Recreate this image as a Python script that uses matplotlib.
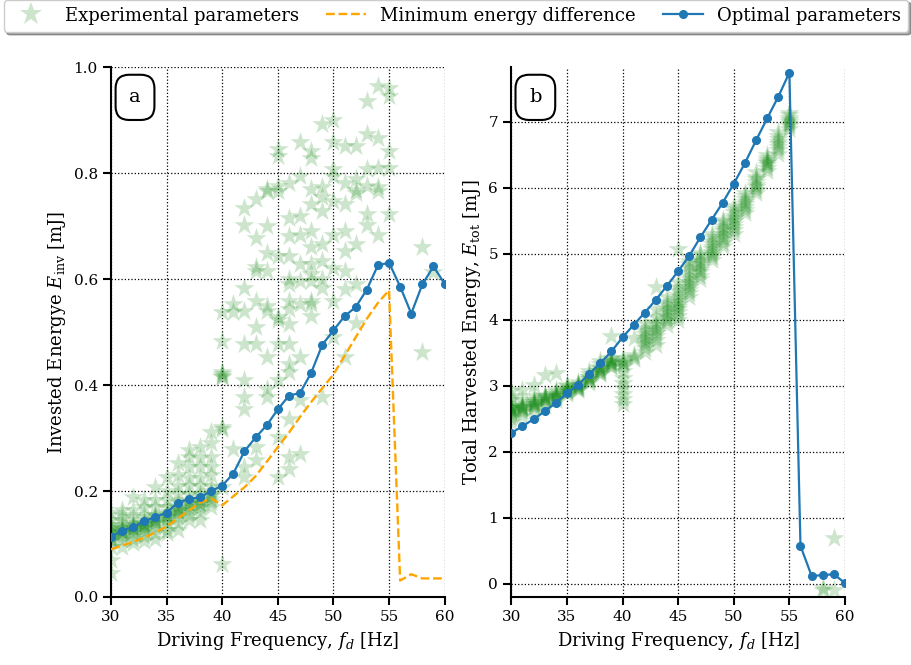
import numpy as np
import matplotlib
matplotlib.use("Agg")
import matplotlib.pyplot as plt
from matplotlib.lines import Line2D

plt.rcParams['font.family'] = ['DejaVu Serif']
plt.rcParams['mathtext.fontset'] = 'dejavuserif'

# --- data ---
freq = list(range(30, 61))

# optimal parameters (blue)
opt_inv = [0.114, 0.125, 0.132, 0.143, 0.151, 0.159, 0.178, 0.185, 0.188, 0.200,
           0.210, 0.233, 0.275, 0.301, 0.324, 0.354, 0.380, 0.385, 0.423, 0.476,
           0.503, 0.530, 0.547, 0.580, 0.626, 0.631, 0.586, 0.535, 0.590, 0.624, 0.591]
opt_tot = [2.285, 2.389, 2.494, 2.613, 2.744, 2.885, 3.015, 3.182, 3.344, 3.521,
           3.735, 3.923, 4.111, 4.304, 4.518, 4.737, 4.971, 5.253, 5.514, 5.775,
           6.062, 6.375, 6.719, 7.053, 7.381, 7.747, 0.574, 0.120, 0.130, 0.146, 0.010]

# minimum energy difference (orange dashed)
min_diff = [0.090, 0.097, 0.104, 0.112, 0.122, 0.133, 0.148, 0.163, 0.178, 0.186,
            0.173, 0.190, 0.207, 0.228, 0.255, 0.283, 0.310, 0.340, 0.368, 0.394,
            0.420, 0.455, 0.490, 0.525, 0.555, 0.579, 0.031, 0.043, 0.035, 0.035, 0.035]

# experimental parameters: invested energy per driving frequency
inv_exp = {
    30: [0.045, 0.069, 0.095, 0.105, 0.110, 0.113, 0.115, 0.120, 0.122, 0.126,
         0.130, 0.135, 0.145, 0.158],
    31: [0.095, 0.107, 0.115, 0.120, 0.122, 0.125, 0.128, 0.130, 0.135, 0.145,
         0.155, 0.164],
    32: [0.101, 0.110, 0.120, 0.125, 0.128, 0.130, 0.133, 0.135, 0.140, 0.150,
         0.165, 0.189],
    33: [0.105, 0.115, 0.125, 0.130, 0.133, 0.135, 0.138, 0.140, 0.145, 0.155,
         0.170, 0.183],
    34: [0.110, 0.120, 0.132, 0.140, 0.142, 0.145, 0.148, 0.150, 0.155, 0.170,
         0.183, 0.208],
    35: [0.120, 0.126, 0.140, 0.145, 0.150, 0.152, 0.156, 0.160, 0.170, 0.183,
         0.200, 0.227],
    36: [0.126, 0.140, 0.150, 0.158, 0.162, 0.165, 0.168, 0.172, 0.180, 0.195,
         0.210, 0.230, 0.252],
    37: [0.145, 0.155, 0.165, 0.170, 0.175, 0.178, 0.183, 0.195, 0.210, 0.225,
         0.245, 0.265, 0.277],
    38: [0.145, 0.160, 0.170, 0.175, 0.178, 0.183, 0.188, 0.195, 0.210, 0.225,
         0.245, 0.262, 0.283],
    39: [0.170, 0.180, 0.185, 0.190, 0.195, 0.200, 0.210, 0.230, 0.245, 0.265,
         0.290, 0.312],
    40: [0.063, 0.207, 0.317, 0.321, 0.415, 0.418, 0.421, 0.425, 0.484, 0.537],
    41: [0.280, 0.537, 0.553],
    42: [0.226, 0.245, 0.355, 0.377, 0.409, 0.478, 0.540, 0.584, 0.703, 0.735],
    43: [0.258, 0.283, 0.478, 0.509, 0.559, 0.616, 0.622, 0.678, 0.751],
    44: [0.377, 0.393, 0.452, 0.540, 0.550, 0.616, 0.650, 0.700, 0.766, 0.770],
    45: [0.226, 0.302, 0.409, 0.478, 0.522, 0.528, 0.644, 0.766, 0.775, 0.832, 0.845],
    46: [0.242, 0.264, 0.336, 0.425, 0.440, 0.478, 0.515, 0.543, 0.559, 0.591,
         0.600, 0.644, 0.681, 0.716, 0.782],
    47: [0.270, 0.371, 0.452, 0.553, 0.597, 0.628, 0.684, 0.719, 0.795, 0.858],
    48: [0.531, 0.553, 0.559, 0.597, 0.610, 0.628, 0.660, 0.690, 0.741, 0.770,
         0.829, 0.842],
    49: [0.377, 0.584, 0.600, 0.634, 0.666, 0.729, 0.754, 0.773, 0.892],
    50: [0.490, 0.559, 0.620, 0.684, 0.748, 0.795, 0.807, 0.858, 0.901],
    51: [0.453, 0.581, 0.616, 0.653, 0.690, 0.741, 0.782, 0.851],
    52: [0.518, 0.591, 0.666, 0.762, 0.769, 0.788, 0.851],
    53: [0.703, 0.722, 0.776, 0.807, 0.873, 0.936],
    54: [0.684, 0.766, 0.773, 0.810, 0.867, 0.964],
    55: [0.722, 0.810, 0.842, 0.945, 0.961],
    58: [0.462, 0.660],
    59: [0.613],
}

# experimental parameters: total harvested energy per driving frequency
tot_exp = {
    30: [2.45, 2.52, 2.58, 2.60, 2.62, 2.63, 2.65, 2.66, 2.68, 2.70, 2.78, 2.85, 2.92],
    31: [2.55, 2.60, 2.64, 2.66, 2.67, 2.68, 2.70, 2.72, 2.78, 2.94],
    32: [2.62, 2.68, 2.70, 2.72, 2.73, 2.75, 2.76, 2.78, 2.85, 3.02],
    33: [2.70, 2.76, 2.78, 2.80, 2.81, 2.83, 2.84, 2.86, 3.17],
    34: [2.78, 2.82, 2.84, 2.85, 2.87, 2.88, 2.90, 2.93, 3.20],
    35: [2.88, 2.90, 2.92, 2.93, 2.95, 2.96, 2.99, 3.02],
    36: [2.93, 2.95, 2.97, 2.98, 3.00, 3.01, 3.03, 3.06],
    37: [3.05, 3.08, 3.10, 3.11, 3.13, 3.14, 3.18, 3.22],
    38: [3.18, 3.20, 3.22, 3.23, 3.25, 3.27, 3.29, 3.33, 3.37],
    39: [3.28, 3.30, 3.33, 3.35, 3.36, 3.38, 3.40, 3.42, 3.75],
    40: [2.73, 2.80, 2.88, 2.96, 3.05, 3.12, 3.22, 3.30, 3.34, 3.36, 3.38, 3.42],
    41: [3.40, 3.43, 3.46, 3.72],
    42: [3.51, 3.58, 3.63, 3.66, 3.70, 3.74, 3.78, 3.83, 3.88, 3.95],
    43: [3.62, 3.70, 3.76, 3.80, 3.84, 3.88, 3.92, 3.97, 4.05, 4.16, 4.50],
    44: [3.92, 3.98, 4.02, 4.06, 4.10, 4.14, 4.18, 4.22, 4.27, 4.34],
    45: [4.00, 4.06, 4.12, 4.16, 4.20, 4.24, 4.28, 4.32, 4.38, 4.44, 4.50, 4.58, 5.08],
    46: [4.35, 4.40, 4.45, 4.50, 4.54, 4.58, 4.62, 4.66, 4.72, 4.78, 4.84, 4.89],
    47: [4.62, 4.67, 4.72, 4.76, 4.80, 4.84, 4.88, 4.93, 4.98, 5.02],
    48: [4.90, 4.95, 4.99, 5.03, 5.07, 5.11, 5.15, 5.20, 5.25, 5.30],
    49: [5.12, 5.17, 5.22, 5.26, 5.30, 5.34, 5.38, 5.43, 5.48, 5.52],
    50: [5.30, 5.36, 5.41, 5.46, 5.50, 5.54, 5.58, 5.63, 5.68, 5.72],
    51: [5.62, 5.67, 5.71, 5.75, 5.79, 5.83, 5.87, 5.92],
    52: [5.92, 5.97, 6.01, 6.05, 6.09, 6.13, 6.17, 6.24],
    53: [6.26, 6.30, 6.34, 6.37, 6.40, 6.43, 6.46, 6.50],
    54: [6.52, 6.58, 6.62, 6.66, 6.70, 6.74, 6.78, 6.84],
    55: [6.90, 6.94, 6.97, 7.00, 7.03, 7.06, 7.10, 7.14],
    58: [-0.06, -0.10],
    59: [0.69, -0.10],
}


def flatten(samples):
    xs, ys = [], []
    for f, vals in samples.items():
        xs += [f] * len(vals)
        ys += vals
    return xs, ys


def style_axes(ax):
    for side in ['top', 'right']:
        ax.spines[side].set_visible(False)
    for side in ['left', 'bottom']:
        ax.spines[side].set_linewidth(1.5)
        ax.spines[side].set_color('black')
    ax.tick_params(direction='out', length=6, width=1.5, labelsize=11)
    ax.grid(True, linestyle=':', color='black', linewidth=0.9)
    ax.set_axisbelow(True)
    ax.set_xlim(30, 60)
    ax.set_xticks([30, 35, 40, 45, 50, 55, 60])
    ax.set_xlabel(r"Driving Frequency, $f_d$ [Hz]", fontsize=13)


fig, (ax1, ax2) = plt.subplots(1, 2, figsize=(9.12, 6.65), dpi=100)
fig.subplots_adjust(left=0.1217, right=0.9265, bottom=0.1023, top=0.899, wspace=0.2)

star_kw = dict(marker='*', s=230, color='green', alpha=0.2, linewidths=0)
line_kw = dict(color='#1f77b4', marker='o', markersize=5.5, linewidth=1.6)

# --- panel a: invested energy ---
x, y = flatten(inv_exp)
ax1.scatter(x, y, zorder=2, **star_kw)
ax1.plot(freq, min_diff, color='orange', linestyle='--', linewidth=1.7, zorder=3)
ax1.plot(freq, opt_inv, zorder=4, **line_kw)
style_axes(ax1)
ax1.set_ylim(0, 1.0)
ax1.set_yticks(np.arange(0, 1.01, 0.2))
ax1.set_ylabel(r"Invested Energye $E_{\rm inv}$ [mJ]", fontsize=13)

# --- panel b: harvested energy ---
x, y = flatten(tot_exp)
ax2.scatter(x, y, zorder=2, **star_kw)
ax2.plot(freq, opt_tot, zorder=4, **line_kw)
style_axes(ax2)
ax2.set_ylim(-0.2, 7.83)
ax2.set_yticks(range(0, 8))
ax2.set_ylabel(r"Total Harvested Energy, $E_{\rm tot}$ [mJ]", fontsize=13)

for ax, tag in [(ax1, 'a'), (ax2, 'b')]:
    ax.text(0.072, 0.943, tag, transform=ax.transAxes, fontsize=14,
            ha='center', va='center', zorder=6,
            bbox=dict(boxstyle='round,pad=0.7', fc='white', ec='black', lw=1.5))

handles = [
    Line2D([], [], marker='*', linestyle='none', markersize=17, color='green',
           alpha=0.2, markeredgewidth=0),
    Line2D([], [], color='orange', linestyle='--', linewidth=1.7),
    Line2D([], [], **line_kw),
]
labels = ['Experimental parameters', 'Minimum energy difference', 'Optimal parameters']
fig.legend(handles, labels, loc='lower left', ncol=3, mode='expand',
           bbox_to_anchor=(0.004, 1 - 32 / 665, 0.992, 0.1), borderaxespad=0,
           fontsize=13, shadow=True, fancybox=True, framealpha=1,
           edgecolor='#cccccc', handlelength=2.2)

fig.savefig('out.png', dpi=100)
